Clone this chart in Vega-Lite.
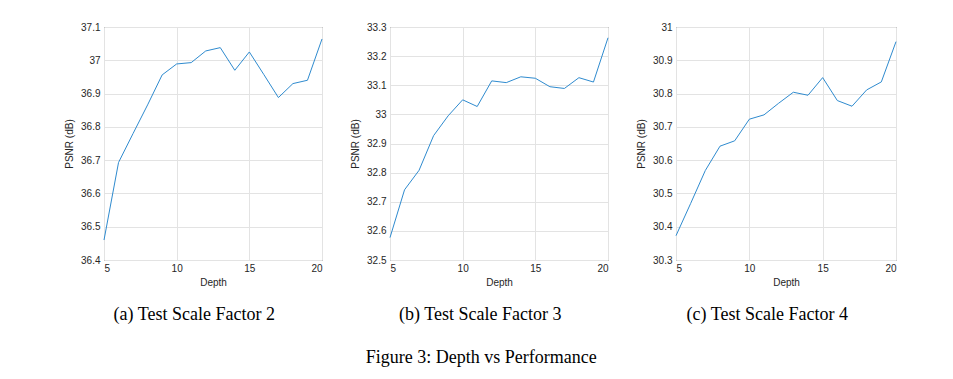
{
  "$schema": "https://vega.github.io/schema/vega-lite/v6.json",
  "background": "white",
  "padding": {"left": 64, "top": 21, "right": 5, "bottom": 5},
  "spacing": 25,
  "title": {"text": "Figure 3: Depth vs Performance", "orient": "bottom", "anchor": "middle", "font": "Liberation Serif", "fontSize": 18, "fontWeight": "normal", "color": "black", "offset": 24, "dx": 0},
  "config": {
    "view": {"stroke": "#555555", "strokeWidth": 1},
    "axis": {"labelFont": "Liberation Sans", "labelFontSize": 10, "labelColor": "#262626", "titleFont": "Liberation Sans", "titleFontSize": 10, "titleFontWeight": "normal", "titleColor": "#262626", "gridColor": "#e3e3e3", "grid": true, "domain": false, "ticks": false, "labelPadding": 4},
    "axisX": {"labelPadding": 3, "titlePadding": 4},
    "axisY": {"titlePadding": 6},
    "title": {"font": "Liberation Serif", "fontSize": 18, "fontWeight": "normal", "color": "black"}
  },
  "hconcat": [
    {
      "width": 218, "height": 233,
      "title": {"text": "(a) Test Scale Factor 2", "orient": "bottom", "frame": "bounds", "anchor": "middle", "offset": 19},
      "data": {"values": [
        {"depth": 5, "psnr": 36.46}, {"depth": 6, "psnr": 36.693}, {"depth": 7, "psnr": 36.78}, {"depth": 8, "psnr": 36.866},
        {"depth": 9, "psnr": 36.956}, {"depth": 10, "psnr": 36.989}, {"depth": 11, "psnr": 36.993}, {"depth": 12, "psnr": 37.028},
        {"depth": 13, "psnr": 37.038}, {"depth": 14, "psnr": 36.97}, {"depth": 15, "psnr": 37.025}, {"depth": 16, "psnr": 36.957},
        {"depth": 17, "psnr": 36.888}, {"depth": 18, "psnr": 36.93}, {"depth": 19, "psnr": 36.94}, {"depth": 20, "psnr": 37.064}
      ]},
      "mark": {"type": "line", "color": "#2f8bcf", "strokeWidth": 1},
      "encoding": {
        "x": {"field": "depth", "type": "quantitative", "scale": {"domain": [5, 20], "nice": false, "zero": false}, "axis": {"values": [5, 10, 15, 20], "title": "Depth"}},
        "y": {"field": "psnr", "type": "quantitative", "scale": {"domain": [36.4, 37.1], "nice": false, "zero": false}, "axis": {"values": [36.4, 36.5, 36.6, 36.7, 36.8, 36.9, 37, 37.1], "format": "~g", "title": "PSNR (dB)"}}
      }
    },
    {
      "width": 218, "height": 233,
      "title": {"text": "(b) Test Scale Factor 3", "orient": "bottom", "frame": "bounds", "anchor": "middle", "offset": 19},
      "data": {"values": [
        {"depth": 5, "psnr": 32.577}, {"depth": 6, "psnr": 32.741}, {"depth": 7, "psnr": 32.808}, {"depth": 8, "psnr": 32.927},
        {"depth": 9, "psnr": 32.995}, {"depth": 10, "psnr": 33.05}, {"depth": 11, "psnr": 33.027}, {"depth": 12, "psnr": 33.115},
        {"depth": 13, "psnr": 33.109}, {"depth": 14, "psnr": 33.129}, {"depth": 15, "psnr": 33.124}, {"depth": 16, "psnr": 33.095},
        {"depth": 17, "psnr": 33.089}, {"depth": 18, "psnr": 33.126}, {"depth": 19, "psnr": 33.111}, {"depth": 20, "psnr": 33.263}
      ]},
      "mark": {"type": "line", "color": "#2f8bcf", "strokeWidth": 1},
      "encoding": {
        "x": {"field": "depth", "type": "quantitative", "scale": {"domain": [5, 20], "nice": false, "zero": false}, "axis": {"values": [5, 10, 15, 20], "title": "Depth"}},
        "y": {"field": "psnr", "type": "quantitative", "scale": {"domain": [32.5, 33.3], "nice": false, "zero": false}, "axis": {"values": [32.5, 32.6, 32.7, 32.8, 32.9, 33, 33.1, 33.2, 33.3], "format": "~g", "title": "PSNR (dB)"}}
      }
    },
    {
      "width": 220, "height": 233,
      "title": {"text": "(c) Test Scale Factor 4", "orient": "bottom", "frame": "bounds", "anchor": "middle", "offset": 19},
      "data": {"values": [
        {"depth": 5, "psnr": 30.373}, {"depth": 6, "psnr": 30.47}, {"depth": 7, "psnr": 30.569}, {"depth": 8, "psnr": 30.642},
        {"depth": 9, "psnr": 30.658}, {"depth": 10, "psnr": 30.723}, {"depth": 11, "psnr": 30.736}, {"depth": 12, "psnr": 30.771},
        {"depth": 13, "psnr": 30.804}, {"depth": 14, "psnr": 30.795}, {"depth": 15, "psnr": 30.848}, {"depth": 16, "psnr": 30.779},
        {"depth": 17, "psnr": 30.762}, {"depth": 18, "psnr": 30.811}, {"depth": 19, "psnr": 30.835}, {"depth": 20, "psnr": 30.956}
      ]},
      "mark": {"type": "line", "color": "#2f8bcf", "strokeWidth": 1},
      "encoding": {
        "x": {"field": "depth", "type": "quantitative", "scale": {"domain": [5, 20], "nice": false, "zero": false}, "axis": {"values": [5, 10, 15, 20], "title": "Depth"}},
        "y": {"field": "psnr", "type": "quantitative", "scale": {"domain": [30.3, 31], "nice": false, "zero": false}, "axis": {"values": [30.3, 30.4, 30.5, 30.6, 30.7, 30.8, 30.9, 31], "format": "~g", "title": "PSNR (dB)"}}
      }
    }
  ]
}
